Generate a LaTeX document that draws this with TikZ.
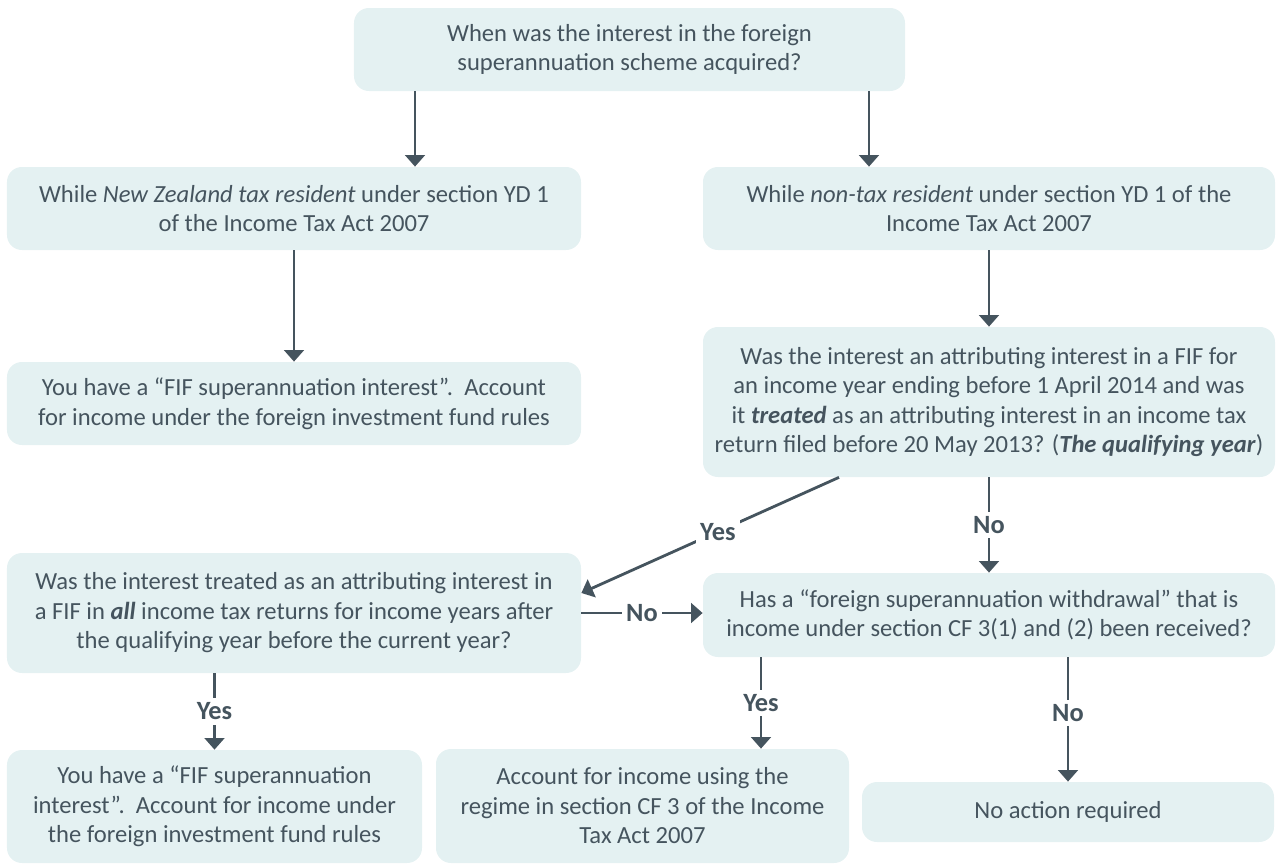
\documentclass[tikz,border=0pt]{standalone}
\usepackage{fontspec}
\setmainfont{Carlito}
\usepackage{xcolor}
\usepackage{tikz}
\usetikzlibrary{positioning, calc, arrows.meta}

\definecolor{boxfill}{RGB}{228,241,242}
\definecolor{inkgrey}{RGB}{69,84,94}

\tikzset{
  flowbox/.style={fill=boxfill, rounded corners=8.5pt, align=center, inner sep=0pt, text=inkgrey, font=\fontsize{14}{16.8}\selectfont},
  flowarr/.style={draw=inkgrey, line width=1.6pt, -{Triangle[width=11pt,length=6.5pt]}},
  yn/.style={fill=white, text=inkgrey, inner sep=2.5pt, font=\fontsize{15}{18}\selectfont\bfseries}
}

\begin{document}
\begin{tikzpicture}[x=0.2mm, y=-0.2mm]

\useasboundingbox (0,0) rectangle (1277,864);

%//boxes, top to bottom
\node [flowbox, minimum width=110.2mm, minimum height=16.6mm] (top) at (629.5,49.5)
  {When was the interest in the foreign\\superannuation scheme acquired?};

\node [flowbox, minimum width=114.8mm, minimum height=16.6mm] (nzres) at (294,208.5)
  {While \textit{New Zealand tax resident} under section YD 1\\of the Income Tax Act 2007};
\node [flowbox, minimum width=114.4mm, minimum height=16.6mm] (nonres) at (989,208.5)
  {While \textit{non-tax resident} under section YD 1 of the\\Income Tax Act 2007};

\node [flowbox, minimum width=114.8mm, minimum height=16.6mm] (fifA) at (294,403.5)
  {You have a “FIF superannuation interest”.\ \ Account\\for income under the foreign investment fund rules};
\node [flowbox, minimum width=114.4mm, minimum height=30mm] (qual) at (989,402)
  {Was the interest an attributing interest in a FIF for\\an income year ending before 1 April 2014 and was\\it \textbf{\textit{treated}} as an attributing interest in an income tax\\return filed before 20 May 2013? (\textbf{\textit{The qualifying year}})};

\node [flowbox, minimum width=114.8mm, minimum height=24mm] (allyrs) at (294,613)
  {Was the interest treated as an attributing interest in\\a FIF in \textbf{\textit{all}} income tax returns for income years after\\the qualifying year before the current year?};
\node [flowbox, minimum width=114.4mm, minimum height=16.8mm] (withdr) at (989,615)
  {Has a “foreign superannuation withdrawal” that is\\income under section CF 3(1) and (2) been received?};

\node [flowbox, minimum width=83mm, minimum height=22.6mm] (fifB) at (214.5,806.5)
  {You have a “FIF superannuation\\interest”.\ \ Account for income under\\the foreign investment fund rules};
\node [flowbox, minimum width=82.6mm, minimum height=22.8mm] (cf3) at (642.5,806)
  {Account for income using the\\regime in section CF 3 of the Income\\Tax Act 2007};
\node [flowbox, minimum width=82.4mm, minimum height=12mm] (noact) at (1068,812)
  {No action required};

%//arrows
\coordinate (colA) at (415,0);
\coordinate (colB) at (869,0);
\coordinate (colC) at (839,0);
\coordinate (colD) at (761,0);

\draw [flowarr] (top.south -| colA) -- (nzres.north -| colA);
\draw [flowarr] (top.south -| colB) -- (nonres.north -| colB);
\draw [flowarr] (nzres.south) -- (fifA.north);
\draw [flowarr] (nonres.south) -- (qual.north);

\draw [flowarr] (qual.south) -- node [yn] {No} (withdr.north);
\draw [flowarr] (qual.south -| colC) -- node [yn, pos=0.47] {Yes} ($(allyrs.east)+(0,-20)$);
\draw [flowarr] (allyrs.east) -- node [yn] {No} (allyrs.east -| withdr.west);

\draw [flowarr] (allyrs.south -| fifB.north) -- node [yn] {Yes} (fifB.north);
\draw [flowarr] (withdr.south -| colD) -- node [yn] {Yes} (cf3.north -| colD);
\draw [flowarr] (withdr.south -| noact.north) -- node [yn, pos=0.45] {No} (noact.north);

\end{tikzpicture}
\end{document}
